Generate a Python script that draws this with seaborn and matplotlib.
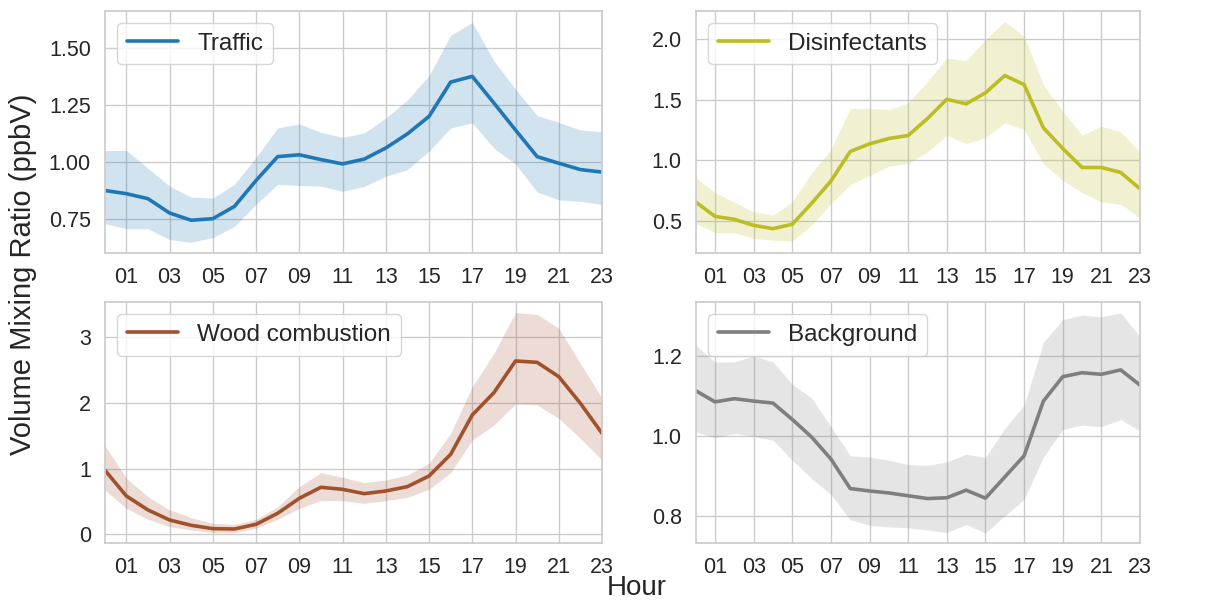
import numpy as np
import pandas as pd
import matplotlib
matplotlib.use("Agg")
import matplotlib.pyplot as plt
import seaborn as sns

hours = list(range(24))
tick_hours = list(range(1, 24, 2))
tick_labels = [f"{h:02d}" for h in tick_hours]

traffic_mean = [0.874, 0.860, 0.838, 0.775, 0.743, 0.750, 0.804, 0.918, 1.023, 1.031, 1.010, 0.991,
                1.012, 1.061, 1.123, 1.200, 1.351, 1.376, 1.259, 1.140, 1.023, 0.994, 0.966, 0.955]
traffic_hi = [1.050, 1.050, 0.972, 0.893, 0.845, 0.841, 0.901, 1.020, 1.149, 1.167, 1.130, 1.108,
              1.127, 1.193, 1.272, 1.379, 1.557, 1.613, 1.444, 1.320, 1.203, 1.174, 1.140, 1.133]
traffic_lo = [0.728, 0.706, 0.706, 0.658, 0.646, 0.667, 0.716, 0.813, 0.901, 0.896, 0.893, 0.870,
              0.892, 0.936, 0.966, 1.047, 1.149, 1.171, 1.060, 0.991, 0.867, 0.833, 0.826, 0.813]

disinf_mean = [0.657, 0.538, 0.514, 0.464, 0.437, 0.473, 0.646, 0.830, 1.074, 1.137, 1.181, 1.206,
               1.346, 1.505, 1.467, 1.558, 1.701, 1.626, 1.269, 1.099, 0.942, 0.942, 0.901, 0.766]
disinf_hi = [0.857, 0.734, 0.657, 0.574, 0.549, 0.659, 0.898, 1.091, 1.429, 1.429, 1.420, 1.475,
             1.654, 1.846, 1.824, 1.997, 2.148, 2.025, 1.626, 1.407, 1.209, 1.283, 1.236, 1.069]
disinf_lo = [0.481, 0.404, 0.404, 0.357, 0.341, 0.335, 0.467, 0.643, 0.799, 0.876, 0.953, 0.975,
             1.071, 1.206, 1.140, 1.187, 1.310, 1.255, 0.973, 0.835, 0.734, 0.657, 0.637, 0.527]

wood_mean = [0.980, 0.584, 0.371, 0.218, 0.137, 0.086, 0.081, 0.152, 0.320, 0.548, 0.716, 0.685,
             0.619, 0.660, 0.726, 0.888, 1.218, 1.817, 2.157, 2.640, 2.619, 2.401, 1.995, 1.538]
wood_hi = [1.360, 0.853, 0.574, 0.371, 0.254, 0.168, 0.152, 0.228, 0.421, 0.726, 0.939, 0.868,
           0.787, 0.827, 0.904, 1.081, 1.538, 2.249, 2.756, 3.376, 3.350, 3.137, 2.604, 2.071]
wood_lo = [0.675, 0.396, 0.228, 0.117, 0.066, 0.025, 0.025, 0.091, 0.228, 0.396, 0.513, 0.513,
           0.472, 0.513, 0.563, 0.685, 0.939, 1.437, 1.665, 1.985, 1.970, 1.766, 1.462, 1.132]

bg_mean = [1.113, 1.085, 1.093, 1.087, 1.082, 1.041, 0.997, 0.942, 0.868, 0.862, 0.857, 0.850,
           0.843, 0.845, 0.864, 0.844, 0.897, 0.950, 1.087, 1.148, 1.158, 1.154, 1.165, 1.127]
bg_hi = [1.227, 1.185, 1.185, 1.200, 1.185, 1.129, 1.095, 1.023, 0.950, 0.947, 0.939, 0.928,
         0.926, 0.935, 0.954, 0.946, 1.018, 1.077, 1.234, 1.291, 1.302, 1.298, 1.308, 1.248]
bg_lo = [1.010, 0.995, 1.006, 0.999, 0.989, 0.939, 0.893, 0.853, 0.790, 0.776, 0.772, 0.770,
         0.764, 0.758, 0.778, 0.757, 0.800, 0.841, 0.947, 1.016, 1.027, 1.023, 1.041, 1.012]

sns.set_theme(style="whitegrid")
plt.rcParams['font.family'] = ['Liberation Sans', 'DejaVu Sans']

fig = plt.figure(figsize=(12.25, 6.02), dpi=100)

W, H = 1225, 602
def pos(l, t, r, b):
    return [l / W, 1 - b / H, (r - l) / W, (b - t) / H]

panels = [
    ("Traffic", "#1f77b4", traffic_mean, traffic_lo, traffic_hi,
     pos(104.7, 10.7, 602, 253), (0.599, 1.665), [0.75, 1.00, 1.25, 1.50], "{:.2f}"),
    ("Disinfectants", "#bcbd22", disinf_mean, disinf_lo, disinf_hi,
     pos(695.7, 10.7, 1140, 253), (0.236, 2.236), [0.5, 1.0, 1.5, 2.0], "{:.1f}"),
    ("Wood combustion", "#a0522d", wood_mean, wood_lo, wood_hi,
     pos(104.7, 302, 602, 543.3), (-0.137, 3.538), [0, 1, 2, 3], "{:d}"),
    ("Background", "#7f7f7f", bg_mean, bg_lo, bg_hi,
     pos(695.7, 302, 1140, 543.3), (0.731, 1.335), [0.8, 1.0, 1.2], "{:.1f}"),
]

for name, color, mean, lo, hi, p, ylim, yt, fmt in panels:
    ax = fig.add_axes(p)
    df = pd.DataFrame({"Hour": hours, "value": mean})
    sns.lineplot(data=df, x="Hour", y="value", color=color, lw=2.6, ax=ax, label=name)
    ax.fill_between(hours, lo, hi, color=color, alpha=0.2, lw=0)
    ax.set_xlim(0, 23)
    ax.set_ylim(*ylim)
    ax.set_xticks(tick_hours)
    ax.set_xticklabels(tick_labels)
    ax.set_yticks(yt)
    ax.set_yticklabels([fmt.format(v) for v in yt])
    ax.tick_params(labelsize=15.5, pad=4)
    ax.set_xlabel("")
    ax.set_ylabel("")
    ax.legend(loc="upper left", fontsize=17.5, handlelength=2.1, frameon=True)

fig.text(23 / W, 1 - 274 / H, "Volume Mixing Ratio (ppbV)", rotation=90,
         ha="center", va="center", fontsize=21, color="#262626")
fig.text(637 / W, 1 - 588 / H, "Hour", ha="center", va="center", fontsize=20, color="#262626")

fig.savefig("out.png", dpi=100)
